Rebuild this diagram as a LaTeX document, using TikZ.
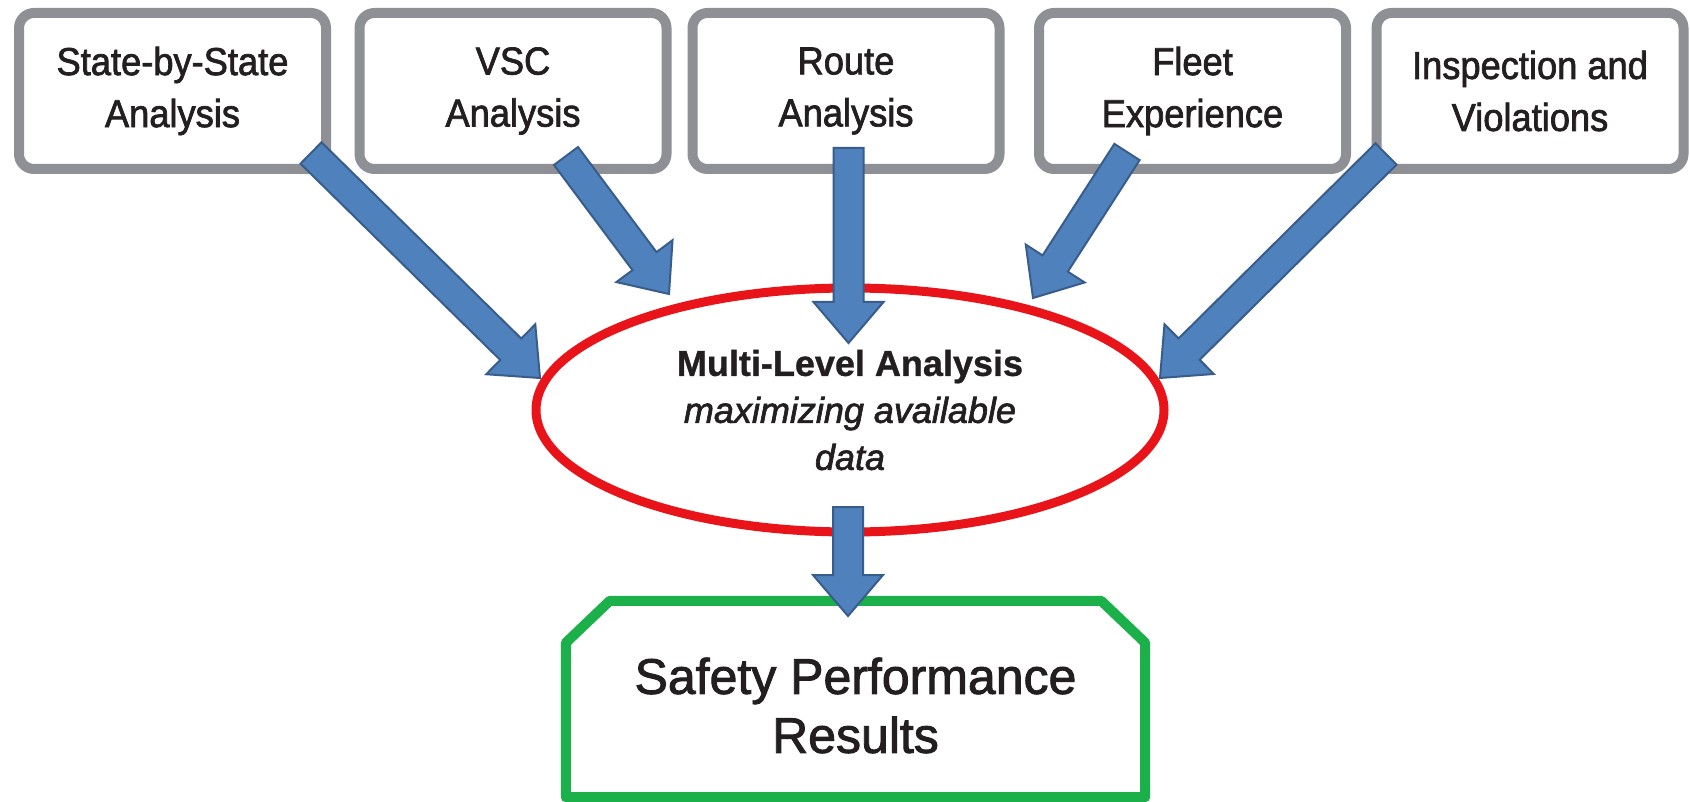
\documentclass[tikz,border=0pt]{standalone}
\usepackage{fontspec}
\setmainfont[UprightFeatures={FakeBold=1.8},ItalicFeatures={FakeBold=1.8},BoldFeatures={FakeBold=1}]{Liberation Sans}
\newfontfamily\boxfont[FakeStretch=0.93,FakeBold=1.8]{Liberation Sans}
\usetikzlibrary{calc,shapes.geometric}
\definecolor{boxgray}{RGB}{142,144,149}
\definecolor{ellred}{RGB}{232,20,26}
\definecolor{resgreen}{RGB}{28,176,75}
\definecolor{arrfill}{RGB}{79,129,189}
\definecolor{arrline}{RGB}{56,93,138}
\definecolor{txt}{RGB}{35,31,32}
\tikzset{
  srcbox/.style={draw=boxgray, line width=10pt, rounded corners=15pt, fill=white,
    minimum width=307pt, minimum height=156pt, inner sep=0pt, align=center,
    text=txt, font=\boxfont\fontsize{39pt}{52pt}\selectfont},
  ellnode/.style={ellipse, draw=ellred, line width=9pt, fill=white,
    minimum width=628pt, minimum height=244pt, inner sep=0pt, align=center,
    text=txt, font=\fontsize{36pt}{47pt}\selectfont},
  resframe/.style={minimum width=579pt, minimum height=196pt, inner sep=0pt},
  restext/.style={inner sep=0pt, align=center, text=txt,
    font=\fontsize{50pt}{59pt}\selectfont},
  resline/.style={draw=resgreen, line width=10pt, line join=round},
  blockarr/.style={fill=arrfill, draw=arrline, line width=2pt, line join=miter},
}
\newcommand\blkarrow[2]{%
  \coordinate (hb) at ($(#2)!41pt!(#1)$);
  \filldraw[blockarr] ($(#1)!15pt!90:(#2)$) -- ($(hb)!15pt!90:(#2)$)
    -- ($(hb)!35pt!90:(#2)$) -- (#2) -- ($(hb)!35pt!-90:(#2)$)
    -- ($(hb)!15pt!-90:(#2)$) -- ($(#1)!15pt!-90:(#2)$) -- cycle;}
\begin{document}
\begin{tikzpicture}[x=1pt,y=-1pt]
\useasboundingbox[fill=white] (0,0) rectangle (1690,802);
% source boxes
\node[srcbox] (b1) at (172.5,91) {State-by-State\\Analysis};
\node[srcbox] (b2) at (513,91) {VSC\\Analysis};
\node[srcbox] (b3) at (846,91) {Route\\Analysis};
\node[srcbox] (b4) at (1192.5,91) {Fleet\\Experience};
\node[srcbox] (b5) at (1530,91) {Inspection and\\Violations};
% ellipse
\node[ellnode] (ell) at (850,410) {\textbf{Multi-Level Analysis}\\\textit{maximizing available}\\\textit{data}};
% result box
\node[resframe] (res) at (855.5,699) {};
\node[restext] (rest) at ([yshift=-6.5pt]res.center) {Safety Performance\\Results};
\draw[resline] (res.south west) -- ([yshift=-42pt]res.north west)
  -- ([xshift=44pt]res.north west) -- ([xshift=-44pt]res.north east)
  -- ([yshift=-42pt]res.north east) -- (res.south east) -- cycle;
% arrow end points
\coordinate (t1) at (311,153);   \coordinate (h1) at (540,378);
\coordinate (t2) at (566,156);   \coordinate (h2) at (669,294);
\coordinate (t3) at (848.5,148); \coordinate (h3) at (848.5,343);
\coordinate (t4) at (1127,152);  \coordinate (h4) at (1033,298);
\coordinate (t5) at (1386,154);  \coordinate (h5) at (1160,378);
\coordinate (t6) at (848,507);   \coordinate (h6) at (848,616);
\blkarrow{t1}{h1}
\blkarrow{t2}{h2}
\blkarrow{t3}{h3}
\blkarrow{t4}{h4}
\blkarrow{t5}{h5}
\blkarrow{t6}{h6}
\end{tikzpicture}
\end{document}
